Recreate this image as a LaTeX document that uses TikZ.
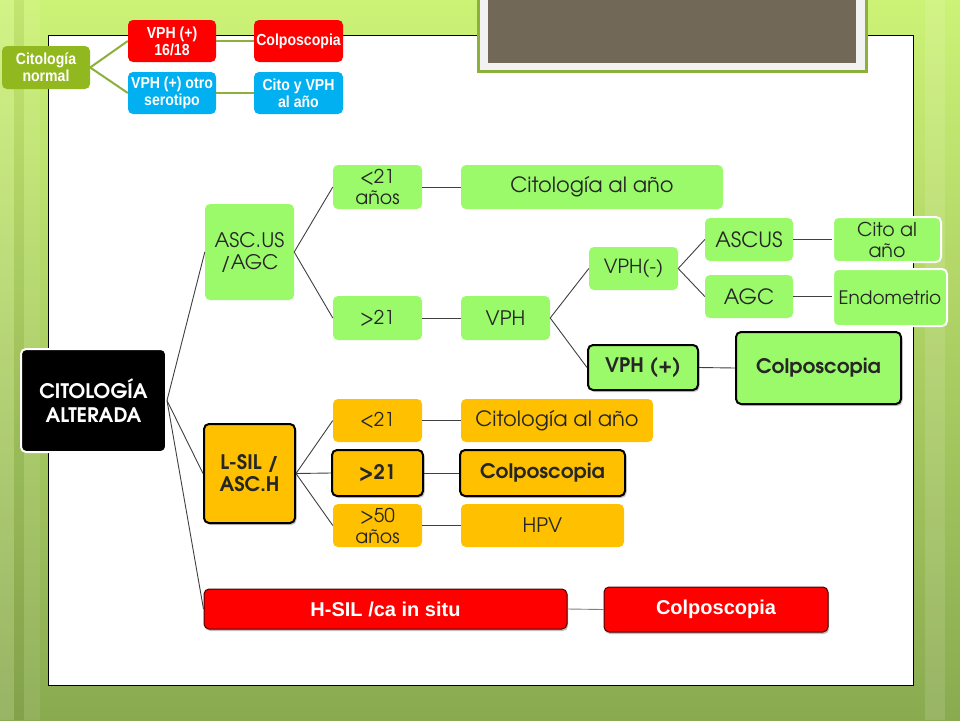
\documentclass[tikz,border=0pt]{standalone}
\usepackage{fontspec}
\usetikzlibrary{shadows}
\newfontfamily\gothic{TeX Gyre Adventor}
\newfontfamily\narrowf[FakeStretch=0.88]{Liberation Sans}
\newfontfamily\sansbf{Liberation Sans}
\definecolor{lgreen}{RGB}{155,250,106}
\definecolor{orng}{RGB}{255,192,0}
\definecolor{olive}{RGB}{146,184,32}
\definecolor{oline}{RGB}{140,176,58}
\definecolor{cyanb}{RGB}{0,176,240}
\definecolor{brownb}{RGB}{113,104,88}
\definecolor{bgtop}{RGB}{204,242,118}
\definecolor{bgbot}{RGB}{138,170,80}
\definecolor{linkc}{RGB}{64,64,64}
\newcommand{\fsz}[2]{\fontsize{#1}{#2}\selectfont}
\tikzset{
  box/.style={rounded corners=5pt, inner sep=0pt, align=center},
  topbox/.style={box, text=white, font=\narrowf\bfseries\fsz{16}{17}},
  gbox/.style={box, fill=lgreen, text=black!85, font=\gothic\fsz{20}{22}},
  obox/.style={box, fill=orng, text=black!85, font=\gothic\fsz{20}{22}},
  strongb/.style={draw=black, line width=2pt, font=\gothic\bfseries\fsz{20}{22},
    drop shadow={shadow xshift=1.5pt, shadow yshift=-2pt, opacity=0.45}},
  wborder/.style={draw=white, line width=2pt},
  redb/.style={box, fill=red, draw=black!70!red, line width=1pt, text=white,
    font=\sansbf\bfseries\fsz{20}{22},
    drop shadow={shadow xshift=1pt, shadow yshift=-2pt, opacity=0.5}},
  link/.style={draw=linkc, line width=0.9pt},
  tlink/.style={draw=oline, line width=2pt},
}
\begin{document}
\begin{tikzpicture}[x=1pt,y=-1pt]
\useasboundingbox (0,0) rectangle (960,720);
% background
\shade[top color=bgtop, bottom color=bgbot] (0,0) rectangle (960,720);
\fill[white, opacity=0.12] (0,0) rectangle (14,720);
\fill[white, opacity=0.08] (24,0) rectangle (40,720);
\fill[black, opacity=0.05] (14,0) rectangle (24,720);
\fill[white, opacity=0.12] (925,0) rectangle (945,720);
% panel
\fill[white, draw=black, line width=1pt] (48,35) rectangle (913,685);
% top image frame
\fill[white!95!black, draw=oline, line width=3pt] (478,-5) rectangle (866,71);
\fill[brownb] (488,-5) rectangle (856,63);

% top small tree
\node[topbox, fill=olive, minimum width=88pt, minimum height=43pt] (normal) at (46,67.5) {Citología\\normal};
\node[topbox, fill=red, minimum width=88pt, minimum height=42pt] (v1618) at (172,41) {VPH (+)\\16/18};
\node[topbox, fill=red, minimum width=89pt, minimum height=42pt] (colp0) at (298.5,41) {Colposcopia};
\node[topbox, fill=cyanb, minimum width=88pt, minimum height=42pt] (votro) at (172,93) {VPH (+) otro\\serotipo};
\node[topbox, fill=cyanb, minimum width=89pt, minimum height=42pt] (citovph) at (298.5,93) {Cito y VPH\\al año};
\draw[tlink] (normal.east) -- (v1618.west);
\draw[tlink] (normal.east) -- (votro.west);
\draw[tlink] (v1618.east) -- (colp0.west);
\draw[tlink] (votro.east) -- (citovph.west);

% main tree
\node[box, fill=black, wborder, text=white, font=\gothic\bfseries\fsz{20}{24}, minimum width=145pt, minimum height=103pt] (alt) at (93.5,400.5) {CITOLOGÍA\\ALTERADA};

\node[gbox, minimum width=89pt, minimum height=96pt] (asc) at (249.5,252) {ASC.US\\/AGC};
\node[gbox, font=\gothic\fsz{19}{21}, minimum width=89pt, minimum height=44pt] (lt21a) at (377.5,187) {<21\\años};
\node[gbox, font=\gothic\fsz{19}{21}, minimum width=89pt, minimum height=44pt] (gt21a) at (377.5,318) {>21};
\node[gbox, font=\gothic\fsz{21}{23}, minimum width=262pt, minimum height=44pt] (cito1) at (592,187) {Citología al año};
\node[gbox, minimum width=89pt, minimum height=44pt] (vph) at (505.5,318) {VPH};
\node[gbox, font=\gothic\fsz{19.5}{21}, minimum width=89pt, minimum height=43pt] (vneg) at (633.5,268.5) {VPH(-)};
\node[gbox, font=\gothic\fsz{21}{23}, minimum width=88pt, minimum height=43pt] (ascus) at (749,239.5) {ASCUS};
\node[gbox, font=\gothic\fsz{21}{23}, minimum width=88pt, minimum height=43pt] (agc) at (749,296.5) {AGC};
\node[gbox, wborder, font=\gothic\fsz{19}{21}, minimum width=108pt, minimum height=45pt] (citoan) at (887,239.5) {Cito al\\año};
\node[gbox, wborder, font=\gothic\fsz{18.5}{20}, minimum width=114pt, minimum height=57pt] (endo) at (890,297.5) {Endometrio};
\node[gbox, strongb, minimum width=110pt, minimum height=45pt] (vpos) at (643,367.5) {VPH (+)};
\node[gbox, strongb, minimum width=165pt, minimum height=72pt] (colpg) at (818.5,368) {Colposcopia};

\node[obox, strongb, minimum width=91pt, minimum height=99pt] (lsil) at (249.5,473.5) {L-SIL /\\ASC.H};
\node[obox, font=\gothic\fsz{19}{21}, minimum width=89pt, minimum height=43pt] (lt21b) at (377.5,420.5) {<21};
\node[obox, strongb, minimum width=91pt, minimum height=46pt] (gt21b) at (377.5,473) {>21};
\node[obox, font=\gothic\fsz{19}{21}, minimum width=89pt, minimum height=43pt] (gt50) at (377.5,525.5) {>50\\años};
\node[obox, font=\gothic\fsz{21}{23}, minimum width=192pt, minimum height=43pt] (cito2) at (557,420.5) {Citología al año};
\node[obox, strongb, minimum width=165pt, minimum height=46pt] (colpo) at (542.5,473) {Colposcopia};
\node[obox, minimum width=163pt, minimum height=43pt] (hpv) at (542.5,525.5) {HPV};

\node[redb, minimum width=363pt, minimum height=40pt] (hsil) at (385.5,609) {H-SIL /ca in situ};
\node[redb, minimum width=224pt, minimum height=45pt] (colpr) at (716,609.5) {Colposcopia};

% connectors
\coordinate (f0) at (alt.east);
\draw[link] (f0) -- (asc.west);
\draw[link] (f0) -- (lsil.west);
\draw[link] (f0) -- (hsil.west);
\draw[link] (asc.east) -- (lt21a.west);
\draw[link] (asc.east) -- (gt21a.west);
\draw[link] (lt21a.east) -- (cito1.west);
\draw[link] (gt21a.east) -- (vph.west);
\draw[link] (vph.east) -- (vneg.west);
\draw[link] (vph.east) -- (vpos.west);
\draw[link] (vneg.east) -- (ascus.west);
\draw[link] (vneg.east) -- (agc.west);
\draw[link] (ascus.east) -- (citoan.west);
\draw[link] (agc.east) -- (agc.east -| endo.west);
\draw[link] (vpos.east) -- (colpg.west);
\draw[link] (lsil.east) -- (lt21b.west);
\draw[link] (lsil.east) -- (gt21b.west);
\draw[link] (lsil.east) -- (gt50.west);
\draw[link] (lt21b.east) -- (cito2.west);
\draw[link] (gt21b.east) -- (colpo.west);
\draw[link] (gt50.east) -- (hpv.west);
\draw[link, draw=gray] (hsil.east) -- (colpr.west);
\end{tikzpicture}
\end{document}
